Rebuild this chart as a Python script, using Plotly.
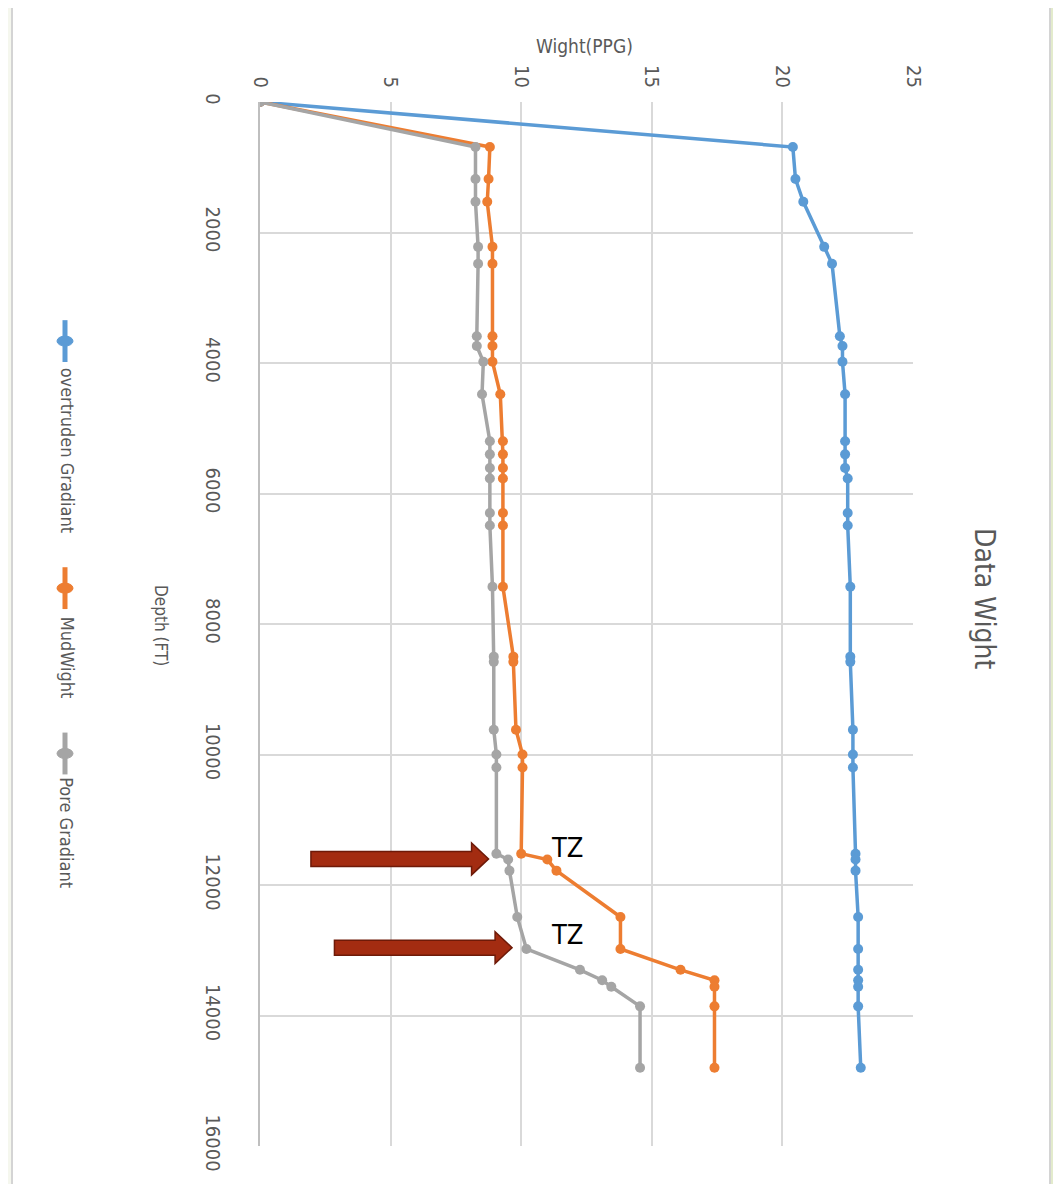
import plotly.graph_objects as go

# ---------------- data ----------------
depth_ft = [0, 690, 1180, 1530, 2220, 2480, 3590, 3740, 3980, 4480, 5200, 5400, 5610, 5770,
            6300, 6490, 7430, 8500, 8580, 9620, 10000, 10200, 11520, 11610, 11780, 12490,
            12980, 13300, 13460, 13560, 13860, 14800]
overburden = [0, 20.4, 20.5, 20.8, 21.6, 21.9, 22.2, 22.3, 22.3, 22.4, 22.4, 22.4, 22.4, 22.5,
              22.5, 22.5, 22.6, 22.6, 22.6, 22.7, 22.7, 22.7, 22.8, 22.8, 22.8, 22.9,
              22.9, 22.9, 22.9, 22.9, 22.9, 23.0]
mud_weight = [0, 8.8, 8.75, 8.7, 8.9, 8.9, 8.9, 8.9, 8.9, 9.2, 9.3, 9.3, 9.3, 9.3,
              9.3, 9.3, 9.3, 9.7, 9.7, 9.8, 10.05, 10.05, 10.0, 11.0, 11.35, 13.8,
              13.8, 16.1, 17.4, 17.4, 17.4, 17.4]
pore = [0, 8.25, 8.25, 8.25, 8.35, 8.35, 8.3, 8.3, 8.55, 8.5, 8.8, 8.8, 8.8, 8.8,
        8.8, 8.8, 8.9, 8.95, 8.95, 8.95, 9.05, 9.05, 9.05, 9.5, 9.55, 9.85,
        10.2, 12.25, 13.1, 13.45, 14.55, 14.55]

series_names = ["overtruden Gradiant", "MudWight", "Pore Gradiant"]
series_colors = ["#5B9BD5", "#ED7D31", "#A5A5A5"]
x_ticks = [0, 5, 10, 15, 20, 25]
y_ticks = [0, 2000, 4000, 6000, 8000, 10000, 12000, 14000, 16000]
tz_index = [22, 26]  # transition-zone points (indices into depth_ft)

# ---------------- layout helpers ----------------
OFF = 8                       # page body margin
W, H = 1061 - 2 * OFF, 1192 - 2 * OFF
L, R, T, B = 260 - OFF, 913 - OFF, 102 - OFF, 1150 - OFF   # plot-area box (figure px)


def px_x(p):  # p: window pixel
    return (p - OFF - L) / (R - L)


def px_y(p):
    return (B - (p - OFF)) / (B - T)


FONT = "Liberation Sans Narrow, DejaVu Sans Condensed, Arial Narrow, sans-serif"
GREY = "#595959"

fig = go.Figure()
for vals, name, col in zip([overburden, mud_weight, pore], series_names, series_colors):
    fig.add_trace(go.Scatter(
        x=vals, y=depth_ft, mode="lines+markers", name=name,
        line=dict(color=col, width=3.5),
        marker=dict(color=col, size=10, symbol="circle"),
        showlegend=False,
    ))

shapes = []
# chart frame
shapes.append(dict(type="rect", xref="paper", yref="paper",
                   x0=px_x(12), x1=px_x(1050), y0=px_y(1205), y1=px_y(5),
                   fillcolor="white", line=dict(color="#D4D4D4", width=2), layer="below"))
shapes.append(dict(type="rect", xref="paper", yref="paper",
                   x0=px_x(1051), x1=px_x(1070), y0=px_y(1205), y1=px_y(-10),
                   fillcolor="#E3EBCC", line=dict(width=0), layer="below"))

# arrows pointing at the transition zones
arrow_len = 6.8
for i, tip_off in zip(tz_index, [0.3, 0.55]):
    yc = depth_ft[i] + (80 if i == 22 else -20)
    xt = pore[i] - tip_off
    xh = xt - 0.65
    x0 = xt - arrow_len
    sh, hh = 115, 245
    path = (f"M {x0},{yc - sh} L {xh},{yc - sh} L {xh},{yc - hh} L {xt},{yc} "
            f"L {xh},{yc + hh} L {xh},{yc + sh} L {x0},{yc + sh} Z")
    shapes.append(dict(type="path", xref="x", yref="y", path=path,
                       fillcolor="#A32C11", line=dict(color="#6E1A08", width=1.5)))

annotations = []
for i in tz_index:
    annotations.append(dict(x=11.75, y=depth_ft[i] - (100 if i == 22 else 220), xref="x", yref="y",
                            text="TZ", showarrow=False, xanchor="center", yanchor="middle",
                            font=dict(family=FONT, size=27, color="black")))

# titles
annotations.append(dict(x=px_x(985), y=px_y(600), xref="paper", yref="paper",
                        text="Data Wight", textangle=90, showarrow=False,
                        xanchor="center", yanchor="middle",
                        font=dict(family=FONT, size=28, color=GREY)))
annotations.append(dict(x=px_x(584), y=px_y(46), xref="paper", yref="paper",
                        text="Wight(PPG)", showarrow=False,
                        xanchor="center", yanchor="middle",
                        font=dict(family=FONT, size=19, color=GREY)))
annotations.append(dict(x=px_x(161), y=px_y(627), xref="paper", yref="paper",
                        text="Depth (FT)", textangle=90, showarrow=False,
                        xanchor="center", yanchor="middle",
                        font=dict(family=FONT, size=17, color=GREY)))

# manual rotated legend
leg_sym = [342, 590, 756]
leg_txt = [451, 660, 835]
for name, col, ys, yt in zip(series_names, series_colors, leg_sym, leg_txt):
    shapes.append(dict(type="line", xref="paper", yref="paper",
                       x0=px_x(65), x1=px_x(65), y0=px_y(ys - 21), y1=px_y(ys + 21),
                       line=dict(color=col, width=5)))
    shapes.append(dict(type="circle", xref="paper", yref="paper",
                       xsizemode="pixel", ysizemode="pixel",
                       xanchor=px_x(65), yanchor=px_y(ys),
                       x0=-8, x1=8, y0=-5, y1=5,
                       fillcolor=col, line=dict(color=col, width=1)))
    annotations.append(dict(x=px_x(67), y=px_y(yt), xref="paper", yref="paper",
                            text=name, textangle=90, showarrow=False,
                            xanchor="center", yanchor="middle",
                            font=dict(family=FONT, size=18, color=GREY)))

fig.update_layout(
    width=W, height=H,
    margin=dict(l=L, r=W - R, t=T, b=H - B),
    paper_bgcolor="#F5F7EE", plot_bgcolor="white",
    shapes=shapes, annotations=annotations,
    showlegend=False,
    xaxis=dict(range=[0, 25], side="top", tickvals=x_ticks, ticktext=[str(v) for v in x_ticks],
               tickangle=90, tickfont=dict(family=FONT, size=20, color=GREY),
               showgrid=True, gridcolor="#D9D9D9", gridwidth=1.5,
               zeroline=False, showline=False, ticklabelstandoff=10),
    yaxis=dict(range=[16000, 0], tickvals=y_ticks, ticktext=[str(v) for v in y_ticks],
               tickangle=90, tickfont=dict(family=FONT, size=20, color=GREY),
               showgrid=True, gridcolor="#D9D9D9", gridwidth=1.5,
               zeroline=False, showline=True, linecolor="#BFBFBF", linewidth=2,
               ticklabelstandoff=28),
)

fig.write_html("out.html")
